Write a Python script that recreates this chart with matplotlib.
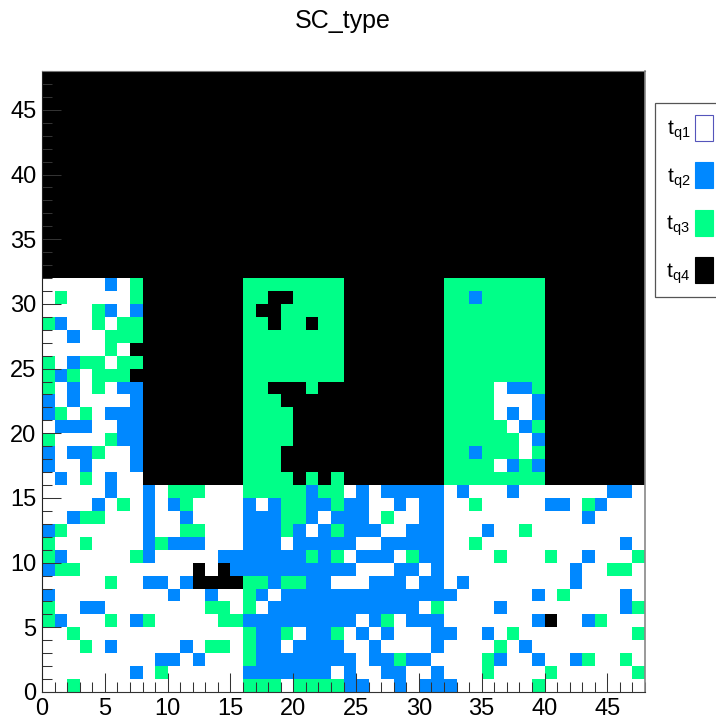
import numpy as np
import matplotlib
matplotlib.use("Agg")
import matplotlib.pyplot as plt
from matplotlib.colors import ListedColormap, BoundaryNorm
from matplotlib.patches import Patch
from matplotlib.ticker import MultipleLocator

plt.rcParams['font.family'] = ['Liberation Sans', 'DejaVu Sans']
plt.rcParams['mathtext.fontset'] = 'custom'
plt.rcParams['mathtext.rm'] = 'Liberation Sans'

# cell types: . = tq1, b = tq2, g = tq3, k = tq4, rows run from high y to low y
# bins 0-7, y 31..16
upper_left = [
    ".....b.g", ".g.....g", "....gb.b", "gb..g.gg",
    "..b..ggg", ".....g.k", "g.bgg.gg", "gbg.gggk",
    "g.b.g.bb", "b.b....b", "bg.g.bbb", ".bbb..bb",
    "g....gbb", "b.bbg..b", "b..b...b", ".b.g.b..",
]
# bins 16-23, y 31..16
upper_mid = [
    "gggggggg", "ggkkgggg", "gkkggggg", "ggkggkgg",
    "gggggggg", "gggggggg", "gggggggg", "gggggggg",
    "ggkkkgkk", "gggkkkkk", "ggggkkkk", "ggggkkkk",
    "ggggkkkk", "gggkkkkk", "gggkkkkk", "ggggkgkg",
]
# bins 32-39, y 31..16
upper_right = [
    "gggggggg", "ggbggggg", "gggggggg", "gggggggg",
    "gggggggg", "gggggggg", "gggggggg", "gggggggg",
    "gggg.bbg", "gggg...b", "gggg.b.b", "ggggg.bg",
    "gggggg.b", "ggbggg.g", "gggg.bgb", "gggggggg",
]
# bins 0-15, y 15..0
lower_left = [
    ".....b..b.ggg...", "....b.g.b.bg....", "..bgg...b..b....",
    "bg......b..gg...", "g..g....bgbbb...", "gb.....gb.....bb",
    "bgg.........k.kb", ".....g..bb.bkkkk", "b.........b..b..",
    "g..bb........gg.", "gb...g.bg.....gg", "..g.............",
    "...g.b.....b.gg.", ".........bb.b...", ".......b.g......",
    "..g.............",
]
# bins 16-31, y 15..0
lower_mid = [
    "gggggbgg.b.bbbbb", "b.bggbbgbb..b.bb", "bbbggb.bbb.g..bb",
    "bbbgb.bgbbb..bbb", "bbb.bbbbb..bbbbb", "bbbbbgbg.bbb.gbb",
    "bbbbbbbbb...bb.b", "ggbggbb...bbb.bb", "gb.bbbbbbbbbbbbb",
    "g.bbbbbbbbbbbb.g", "bbbbbbbbb.bg.bbb", "gbbg.bbg.b.b...b",
    "gbb.bbbb..b....b", "gbbbbbbbb.bbgbb.", "bbbbbbb.b..bb..b",
    "ggg.ggggbb..b.bb",
]
# bins 32-47, y 15..0
lower_right = [
    ".b...b.......bb.", "..g.....bb.gb...", "...........b....",
    "...b..g.........", "..g...........b.", "....g...g..b...g",
    "..........b..gg.", ".b........b.....", "b......b.g....b.",
    "....b.........bg", ".......bk..bg...", "b..b.g.........g",
    "....g.b.........", "...gb..b..bg..g.", "...g....g......g",
    "b......g........",
]

type_labels = [r"$\mathrm{t}_{\mathrm{q1}}$", r"$\mathrm{t}_{\mathrm{q2}}$",
               r"$\mathrm{t}_{\mathrm{q3}}$", r"$\mathrm{t}_{\mathrm{q4}}$"]
type_colors = ["#FFFFFF", "#0088FF", "#00FF88", "#000000"]
codes = {".": 0, "b": 1, "g": 2, "k": 3}


def to_codes(rows):
    return np.array([[codes[c] for c in r] for r in rows])


# everything not listed above is tq4
grid = np.full((48, 48), 3)
grid[16:32, 0:8] = to_codes(upper_left)[::-1]
grid[16:32, 16:24] = to_codes(upper_mid)[::-1]
grid[16:32, 32:40] = to_codes(upper_right)[::-1]
grid[0:16, 0:16] = to_codes(lower_left)[::-1]
grid[0:16, 16:32] = to_codes(lower_mid)[::-1]
grid[0:16, 32:48] = to_codes(lower_right)[::-1]

W, H = 716, 722
fig = plt.figure(figsize=(W / 100, H / 100), dpi=100)
ax = fig.add_axes([42 / W, 1 - 692 / H, (645 - 42) / W, (692 - 71) / H])

cmap = ListedColormap(type_colors)
norm = BoundaryNorm([-0.5, 0.5, 1.5, 2.5, 3.5], cmap.N)
edges = np.arange(49)
ax.pcolormesh(edges, edges, grid, cmap=cmap, norm=norm, linewidth=0, rasterized=True)

ax.set_xlim(0, 48)
ax.set_ylim(0, 48)
for axis in (ax.xaxis, ax.yaxis):
    axis.set_major_locator(MultipleLocator(5))
    axis.set_minor_locator(MultipleLocator(1))
ax.tick_params(which='major', direction='in', length=14, width=0.75, color='#333333',
               labelsize=17, pad=4)
ax.tick_params(which='minor', direction='in', length=7, width=0.75, color='#333333')
ax.spines['left'].set_color('#222222')
ax.spines['bottom'].set_color('#333333')
ax.spines['right'].set_color('#888888')
ax.spines['right'].set_linewidth(1.2)
ax.spines['top'].set_color('#777777')

fig.text(343 / W, 1 - 21 / H, "SC_type", fontsize=18, ha='center', va='center')

handles = [Patch(facecolor=c, edgecolor='#5555BB' if i == 0 else c, linewidth=0.8)
           for i, c in enumerate(type_colors)]
leg = fig.legend(handles, type_labels, loc='upper left', bbox_to_anchor=(654.5 / W, 1 - 103 / H),
                 bbox_transform=fig.transFigure, borderaxespad=0, markerfirst=False,
                 fontsize=15, handlelength=0.865, handleheight=1.55, labelspacing=0.91,
                 borderpad=0.56, handletextpad=0.25, fancybox=False, framealpha=1,
                 edgecolor='#555555')
leg.get_frame().set_linewidth(0.9)

fig.savefig("out.png", dpi=100)
